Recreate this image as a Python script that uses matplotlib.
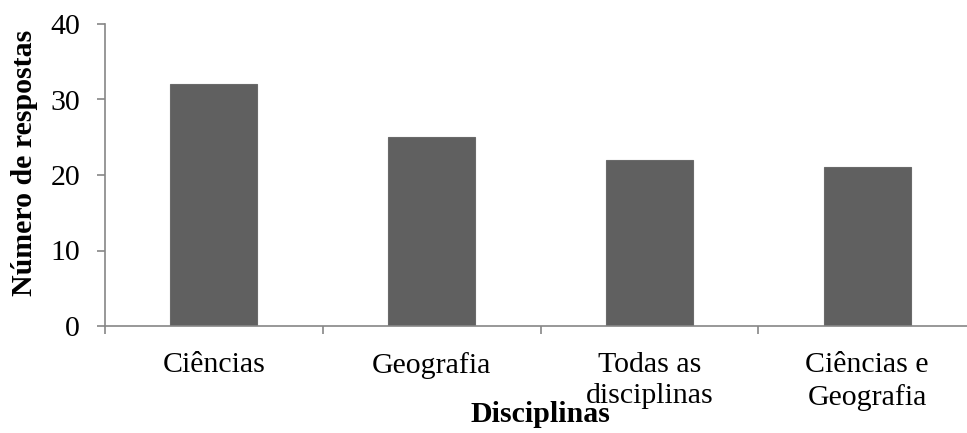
import matplotlib
matplotlib.use("Agg")
import matplotlib.pyplot as plt
import numpy as np

categories = ["Ciências", "Geografia", "Todas as\ndisciplinas", "Ciências e\nGeografia"]
values = [32, 25, 22, 21]
y_ticks = [0, 10, 20, 30, 40]

plt.rcParams['font.family'] = ['Liberation Serif', 'DejaVu Serif']

fig = plt.figure(figsize=(9.67, 4.33), dpi=100)
ax = fig.add_axes([105 / 967, 1 - 326 / 433, 871 / 967, 302 / 433])

x = np.arange(len(categories))
ax.bar(x, values, width=0.4, color="#606060", edgecolor="#6a6a6a", linewidth=0.8, zorder=2)

ax.set_xlim(-0.5, len(categories) - 0.5)
ax.set_ylim(0, 40)
ax.set_yticks(y_ticks)
ax.set_xticks(x)
ax.set_xticklabels(categories, linespacing=1.25)
ax.set_xticks(np.arange(-0.5, len(categories), 1.0), minor=True)

for side in ["top", "right"]:
    ax.spines[side].set_visible(False)
for side in ["left", "bottom"]:
    ax.spines[side].set_color("#868686")
    ax.spines[side].set_linewidth(1.2)

ax.tick_params(axis="y", which="major", length=6, width=1.2, color="#868686", pad=12, labelsize=21.5)
ax.tick_params(axis="x", which="major", length=0, pad=19, labelsize=21.5)
ax.tick_params(axis="x", which="minor", length=6, width=1.2, color="#868686", direction="out")

ax.set_ylabel("Número de respostas", fontsize=21.5, fontweight="bold", labelpad=8)
ax.yaxis.set_label_coords(-0.077, 0.54)
ax.set_xlabel("Disciplinas", fontsize=21.5, fontweight="bold", labelpad=-7)

fig.savefig("out.png", dpi=100)
